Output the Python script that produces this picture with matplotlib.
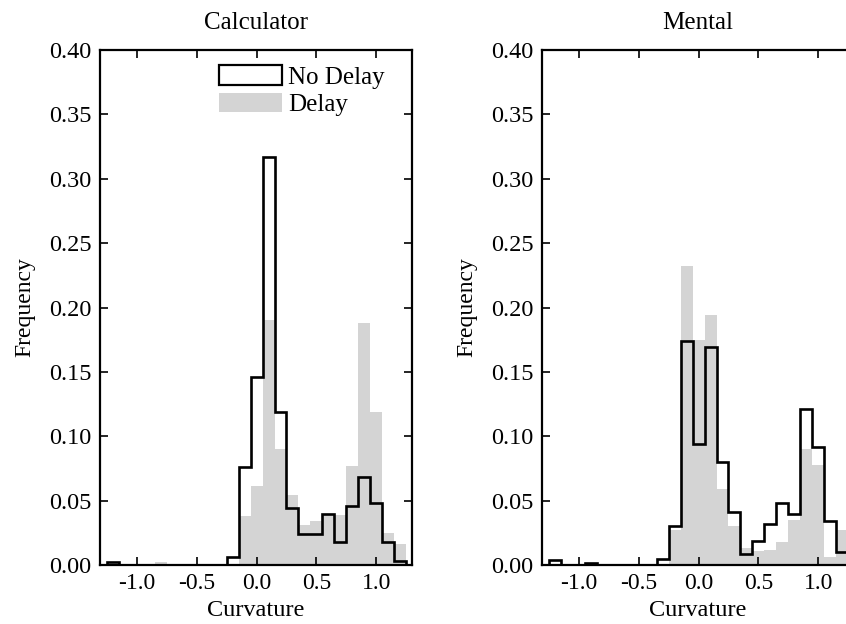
import numpy as np
import matplotlib
matplotlib.use("Agg")
import matplotlib.pyplot as plt
from matplotlib.patches import Patch

plt.rcParams['font.family'] = ['Liberation Serif', 'DejaVu Serif']
plt.rcParams['axes.unicode_minus'] = False

# bin centres -1.2 ... 1.2, width 0.1
bin_centers = [round(-1.2 + 0.1 * i, 1) for i in range(25)]
bin_width = 0.1

# Calculator panel
calc_no_delay = [0.002, 0, 0, 0, 0, 0, 0, 0, 0, 0, 0.006, 0.076, 0.146, 0.317,
                 0.119, 0.044, 0.024, 0.024, 0.040, 0.018, 0.046, 0.068, 0.048, 0.018, 0.003]
calc_delay = [0.001, 0, 0, 0, 0.002, 0, 0, 0, 0, 0, 0, 0.038, 0.061, 0.190,
              0.090, 0.054, 0.031, 0.034, 0.039, 0.039, 0.077, 0.188, 0.119, 0.025, 0.016]

# Mental panel
ment_no_delay = [0.0035, 0, 0, 0.0016, 0, 0, 0, 0, 0, 0.005, 0.030, 0.174, 0.094, 0.169,
                 0.080, 0.041, 0.0085, 0.019, 0.032, 0.048, 0.040, 0.121, 0.0915, 0.034, 0.010]
ment_delay = [0, 0, 0, 0, 0, 0, 0, 0, 0, 0, 0.027, 0.232, 0.175, 0.194,
              0.059, 0.030, 0.013, 0.011, 0.012, 0.018, 0.035, 0.090, 0.078, 0.006, 0.027]

titles = ["Calculator", "Mental"]
legend_labels = ["No Delay", "Delay"]
x_ticks = [-1.0, -0.5, 0.0, 0.5, 1.0]
x_tick_labels = ["-1.0", "-0.5", "0.0", "0.5", "1.0"]
y_ticks = [0.00, 0.05, 0.10, 0.15, 0.20, 0.25, 0.30, 0.35, 0.40]
y_tick_labels = ["0.00", "0.05", "0.10", "0.15", "0.20", "0.25", "0.30", "0.35", "0.40"]

W, H = 846, 624
fig = plt.figure(figsize=(W / 100, H / 100), dpi=100)
fig.patch.set_facecolor('white')

gray = '#d4d4d4'
edges = np.array([c - bin_width / 2 for c in bin_centers] + [bin_centers[-1] + bin_width / 2])

positions = [(100, 50, 312, 515), (542, 50, 312, 515)]
data = [(calc_no_delay, calc_delay), (ment_no_delay, ment_delay)]

for k, (pos, (nd, d)) in enumerate(zip(positions, data)):
    x0, y0, w, h = pos
    ax = fig.add_axes([x0 / W, 1 - (y0 + h) / H, w / W, h / H])
    ax.bar(bin_centers, d, width=bin_width, color=gray, edgecolor='none', align='center', zorder=1)
    ax.stairs(nd, edges, baseline=0, color='black', lw=1.9, zorder=2)
    ax.set_xlim(-1.31, 1.30)
    ax.set_ylim(0, 0.40)
    ax.set_xticks(x_ticks)
    ax.set_xticklabels(x_tick_labels, fontsize=17)
    ax.set_yticks(y_ticks)
    ax.set_yticklabels(y_tick_labels, fontsize=17.5)
    ax.tick_params(direction='in', top=True, right=True, length=6, width=1.2, pad=6)
    for s in ax.spines.values():
        s.set_linewidth(1.6)
        s.set_zorder(3)
    ax.set_title(titles[k], fontsize=18, pad=15)
    ax.set_xlabel("Curvature", fontsize=17.5, labelpad=4)
    ax.set_ylabel("Frequency", fontsize=17, labelpad=10)
    if k == 0:
        handles = [Patch(facecolor='white', edgecolor='black', lw=1.6),
                   Patch(facecolor=gray, edgecolor='none')]
        ax.legend(handles, legend_labels, loc='upper right', frameon=False, fontsize=18,
                  handlelength=2.5, handleheight=0.85, handletextpad=0.25,
                  labelspacing=0.15, borderaxespad=0.0, bbox_to_anchor=(0.945, 0.99))

fig.savefig("out.png", dpi=100, facecolor='white')
